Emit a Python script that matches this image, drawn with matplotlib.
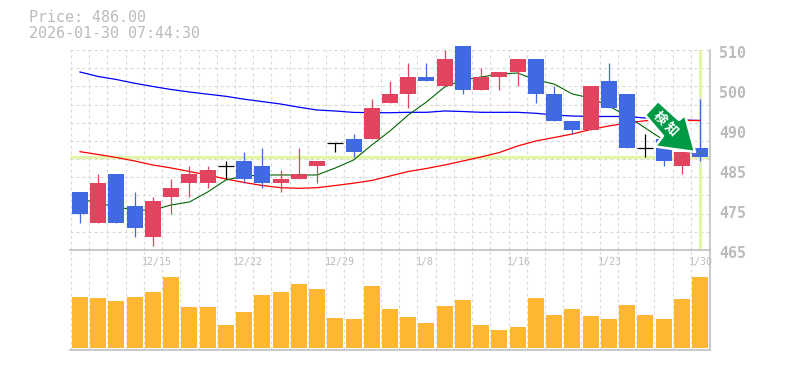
import numpy as np
import matplotlib
matplotlib.use("Agg")
import matplotlib.pyplot as plt
from matplotlib.patches import Polygon

plt.rcParams['font.family'] = ['DejaVu Sans Mono', 'Noto Sans CJK JP']

# daily candles
opens = [478, 471, 482, 475, 468, 477, 480, 480, 484, 485, 484, 480, 481, 484, 489, 490, 490, 498,
         500, 504, 502, 511, 501, 504, 505, 508, 500, 494, 492, 503, 500, 488, 490, 484, 488]
highs = [478, 482, 482, 478, 477, 481, 484, 484, 485, 487, 488, 483, 488, 485, 489, 491, 499, 503,
         507, 507, 510, 511, 506, 505, 508, 508, 502, 494, 502, 507, 500, 491, 490, 487, 499]
lows = [471, 471, 471, 468, 466, 473, 477, 479, 481, 480, 479, 478, 481, 480, 487, 486, 490, 498,
        497, 503, 502, 500, 501, 501, 502, 498, 494, 491, 492, 497, 488, 486, 484, 482, 485]
closes = [473, 480, 471, 470, 476, 479, 482, 483, 484, 481, 480, 481, 482, 485, 489, 487, 497, 500,
          504, 503, 508, 501, 504, 505, 508, 500, 494, 492, 502, 497, 488, 488, 485, 487, 486]
volumes = [51, 50, 47, 51, 56, 71, 41, 41, 23, 36, 53, 56, 64, 59, 30, 29, 62, 39,
           31, 25, 42, 48, 23, 18, 21, 50, 33, 39, 32, 29, 43, 33, 29, 49, 71]

# moving averages
ma_long = [505.05, 504.04, 503.36, 502.51, 501.79, 501.11, 500.55, 500.06, 499.58, 498.93, 498.39, 497.85,
           497.13, 496.5, 496.28, 495.96, 495.89, 495.89, 495.98, 495.98, 496.28, 496.16, 495.98, 495.98,
           495.98, 495.76, 495.38, 495.15, 495.04, 495.04, 495.04, 494.7, 494.48, 494.25, 494.14]
ma_mid = [487.12, 486.49, 485.81, 485.03, 484.13, 483.45, 482.66, 481.88, 480.98, 480.19, 479.51, 479.02,
          478.88, 479.02, 479.51, 480.03, 480.64, 481.65, 482.66, 483.34, 484.13, 485.03, 485.93, 486.94,
          488.4, 489.53, 490.31, 491.1, 492.11, 492.9, 493.58, 494.09, 494.14, 494.14, 494.14]
ma_short = [476.48, 475.58, 474.68, 474.0, 474.0, 475.13, 475.8, 478.05, 480.75, 481.65, 481.88, 481.88,
            481.88, 481.88, 483.45, 485.25, 488.63, 491.78, 495.38, 498.3, 501.68, 503.25, 503.93, 504.6,
            504.83, 503.25, 502.35, 500.1, 499.2, 497.4, 495.15, 492.45, 489.75, 487.5, 486.38]

date_idx = [4, 9, 14, 19, 24, 29, 34]
date_labels = ["12/15", "12/22", "12/29", "1/8", "1/16", "1/23", "1/30"]
price_ticks = [510, 501, 492, 483, 474, 465]
price_labels = ["510", "500", "490", "485", "475", "465"]
last_price = 486

GRID = "#d9d9d9"
TXT = "#bbbbbb"
BLUE = "#4169e1"
RED = "#e2445f"
ORANGE = "#ffb733"
HILITE = "#e2f5a8"
DASH = (0, (2.7, 2.7))

W, H = 785, 370
fig = plt.figure(figsize=(W / 100, H / 100), dpi=100)
ax = fig.add_axes([70 / W, 1 - 250 / H, 640 / W, 200 / H])
axv = fig.add_axes([70 / W, 1 - 350 / H, 640 / W, 100 / H])

n = len(closes)
x = np.arange(n)
xlim = (-0.548, n - 1 + 0.548)

for a in (ax, axv):
    a.set_xlim(xlim)
    a.set_xticks(np.arange(n) - 0.5)
    a.set_xticklabels([])
    a.tick_params(length=0)
    a.set_yticklabels([])
    a.grid(True, axis='x', color=GRID, linestyle=DASH, linewidth=0.8)
    a.set_axisbelow(True)
    a.patch.set_alpha(0)
    for s in a.spines.values():
        s.set_color(TXT)
        s.set_linewidth(1.1)
    a.spines['left'].set_visible(False)
    a.spines['top'].set_visible(False)

ax.set_ylim(465, 510)
ax.set_yticks(np.linspace(465, 510, 12))
ax.set_yticklabels([])
ax.grid(True, axis='y', color=GRID, linestyle=DASH, linewidth=0.8)

# current price cross-hair
ax.axhline(last_price, color=HILITE, lw=2.3, zorder=1)
ax.plot([n - 1, n - 1], [465.3, 510], color=HILITE, lw=2.3, zorder=1)

ax.plot(x, ma_long, color="#0000ff", lw=0.9, zorder=2)
ax.plot(x, ma_mid, color="#ff0000", lw=0.9, zorder=2)
ax.plot(x, ma_short, color="#006400", lw=0.8, zorder=2)

for i in x:
    o, h, l, c = opens[i], highs[i], lows[i], closes[i]
    col = "black" if o == c else (RED if c > o else BLUE)
    ax.plot([i, i], [l, h], color=col, lw=0.9, zorder=3, clip_on=False, solid_capstyle='butt')
    if o == c:
        ax.plot([i - 0.43, i + 0.43], [o, o], color=col, lw=0.9, zorder=3, solid_capstyle='butt')
    else:
        ax.bar(i, abs(c - o), bottom=min(o, c), width=0.88, color=col, zorder=4, clip_on=False)

axv.set_ylim(-2, 98)
axv.set_yticks([])
axv.bar(x, volumes, width=0.88, color=ORANGE, zorder=3)

for idx, lab in zip(date_idx, date_labels):
    ax.annotate(lab, (idx, 0), xycoords=('data', 'axes fraction'), xytext=(-11, -12),
                textcoords='offset pixels', color=TXT, fontsize=7.2, ha='left', va='center')
for p, lab in zip(price_ticks, price_labels):
    ax.annotate(lab, (1, p), xycoords=('axes fraction', 'data'), xytext=(9.5, -3),
                textcoords='offset pixels', color=TXT, fontsize=10.8, ha='left', va='center',
                fontweight='bold', annotation_clip=False)

fig.text(29 / W, 1 - 18 / H, "Price: 486.00", color=TXT, fontsize=10.8, va='center')
fig.text(29 / W, 1 - 33 / H, "2026-01-30 07:44:30", color=TXT, fontsize=10.8, va='center')

# overlay in pixel coordinates for the signal arrow
top = fig.add_axes([0, 0, 1, 1])
top.set_xlim(0, W)
top.set_ylim(H, 0)
top.axis('off')
top.patch.set_alpha(0)
arrow = [(658, 101), (645, 115), (663, 136), (655, 146.5), (695, 152), (685, 115), (679, 120)]
top.add_patch(Polygon(arrow, closed=True, facecolor="#009944", edgecolor="white", lw=1.8, joinstyle='round'))
top.text(660, 118, "検", color="white", fontsize=9.5, fontweight='bold', rotation=-45,
         ha='center', va='center', family=['Noto Sans CJK JP'])
top.text(671, 128.5, "知", color="white", fontsize=9.5, fontweight='bold', rotation=-45,
         ha='center', va='center', family=['Noto Sans CJK JP'])

fig.savefig("out.png", dpi=100)
